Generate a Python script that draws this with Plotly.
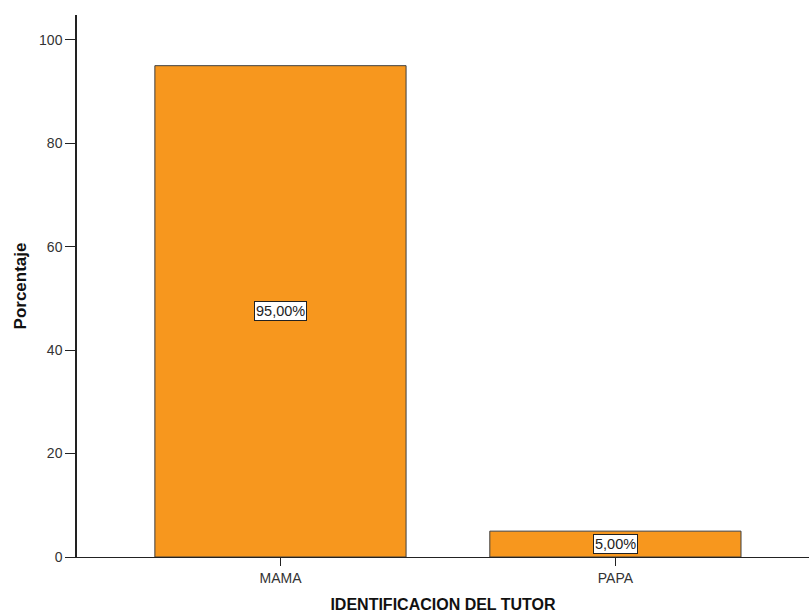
import plotly.graph_objects as go

# Distribución porcentual por tutor
categorias = ["MAMA", "PAPA"]
porcentajes = [95.0, 5.0]
etiquetas = ["95,00%", "5,00%"]
ticks_y = [0, 20, 40, 60, 80, 100]

color_barra = "#F7971E"
color_borde = "#3f3f3f"
fuente = "Liberation Sans, Arial, sans-serif"

fig = go.Figure()
fig.add_trace(go.Bar(
    x=categorias,
    y=porcentajes,
    width=0.75,
    marker=dict(color=color_barra, line=dict(color=color_borde, width=1)),
    hoverinfo="skip",
))

# Etiquetas de valor en recuadro blanco, centradas en cada barra
for cat, val, txt in zip(categorias, porcentajes, etiquetas):
    fig.add_annotation(
        x=cat, y=val / 2, text=txt, showarrow=False,
        font=dict(family=fuente, size=14.5, color="#222"),
        bgcolor="white", bordercolor="#222", borderwidth=1, borderpad=1,
    )

fig.update_layout(
    width=809, height=614,
    margin=dict(l=77, r=0, t=15, b=57),
    paper_bgcolor="white", plot_bgcolor="white",
    showlegend=False,
    font=dict(family=fuente, size=14, color="#333"),
    xaxis=dict(
        range=[-0.6075, 1.578],
        showline=True, linecolor="#222", linewidth=1,
        ticks="outside", ticklen=8, tickcolor="#222",
        tickfont=dict(size=14, color="#333"),
        showgrid=False, zeroline=False,
        title=dict(text="<b>IDENTIFICACION DEL TUTOR</b>",
                   font=dict(size=16, color="#111"), standoff=14),
    ),
    yaxis=dict(
        range=[0, 104.8],
        tickvals=ticks_y,
        showline=True, linecolor="#222", linewidth=1.5,
        ticks="outside", ticklen=10, tickcolor="#222",
        tickfont=dict(size=14, color="#333"),
        showgrid=False, zeroline=False,
        title=dict(text="<b>Porcentaje</b>",
                   font=dict(size=17, color="#111"), standoff=8),
    ),
)

fig.write_html("out.html")
